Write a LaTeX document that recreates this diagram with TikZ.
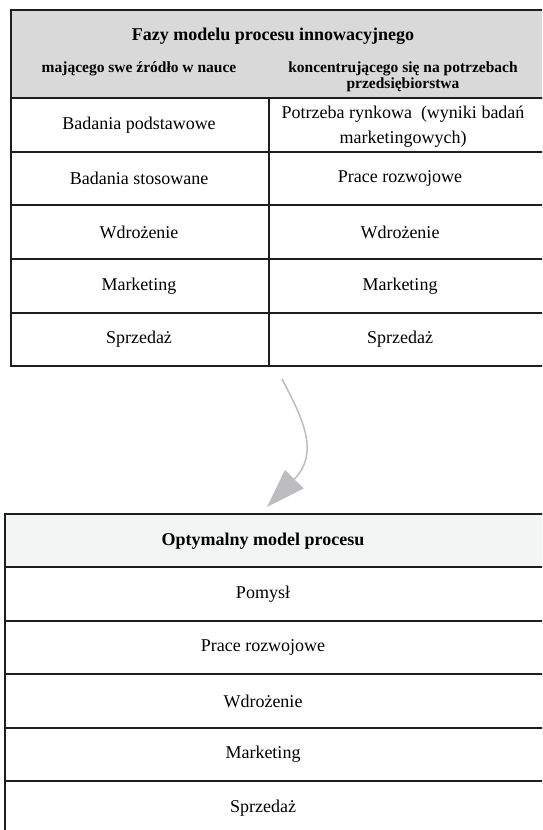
\documentclass[tikz,border=0pt]{standalone}
\usepackage{fontspec}
\setmainfont{Liberation Serif}
\usetikzlibrary{arrows.meta}
\definecolor{framecol}{HTML}{1E1E1E}
\definecolor{hdrgray}{HTML}{D9D9D9}
\definecolor{hdrlight}{HTML}{F3F5F5}
\definecolor{arrowgray}{HTML}{BDBDC0}
\newcommand\cellfont{\fontsize{18}{22}\selectfont}
\newcommand\titlefont{\fontsize{18}{22}\selectfont\bfseries}
\newcommand\subfont{\fontsize{15.5}{16}\selectfont\bfseries}
\begin{document}
\begin{tikzpicture}[x=1pt,y=-1pt,
  rule/.style={draw=framecol, line width=2pt},
  celltext/.style={inner sep=0pt, font=\cellfont, align=center},
  titletext/.style={inner sep=0pt, font=\titlefont, align=center},
  subtext/.style={inner sep=0pt, font=\subfont, align=center},
  conn/.style={draw=arrowgray, line width=1.5pt, -{Triangle[length=39pt,width=26pt]}}]
\useasboundingbox (0,0) rectangle (542,830);
\clip (0,0) rectangle (542,830);
% ---------- top table ----------
\fill[hdrgray] (11,10) rectangle (560,98);
\draw[rule] (560,10) -- (11,10) -- (11,366) -- (560,366);
\foreach \yy in {98,152,205,259,313} \draw[rule] (11,\yy) -- (560,\yy);
\draw[rule] (269,98) -- (269,366);
\node[titletext] (title) at (273,36) {Fazy modelu procesu innowacyjnego};
\node[subtext] (subL) at (139,69) {mającego swe źródło w nauce};
\node[subtext] (subR) at (403,77) {koncentrującego się na potrzebach\\przedsiębiorstwa};
\node[celltext] (a1) at (139,125) {Badania podstawowe};
\node[celltext, font=\fontsize{18}{25}\selectfont] (b1) at (403,127) {Potrzeba rynkowa\hspace{0.5em}(wyniki badań\\marketingowych)};
\node[celltext] (a2) at (139,178.5) {Badania stosowane};
\node[celltext] (b2) at (400,178.5) {Prace rozwojowe};
\node[celltext] (a3) at (139,232) {Wdrożenie};
\node[celltext] (b3) at (400,232) {Wdrożenie};
\node[celltext] (a4) at (139,286) {Marketing};
\node[celltext] (b4) at (400,286) {Marketing};
\node[celltext] (a5) at (139,339.5) {Sprzedaż};
\node[celltext] (b5) at (400,339.5) {Sprzedaż};
% ---------- bottom table ----------
\fill[hdrlight] (5,513.5) rectangle (560,567);
\draw[rule] (560,513.5) -- (5,513.5) -- (5,850);
\foreach \yy in {567,621,674,728,781} \draw[rule] (5,\yy) -- (560,\yy);
\node[titletext] (opt) at (263,541) {Optymalny model procesu};
\node[celltext] (c1) at (263,594) {Pomysł};
\node[celltext] (c2) at (263,647.5) {Prace rozwojowe};
\node[celltext] (c3) at (263,701) {Wdrożenie};
\node[celltext] (c4) at (263,754.5) {Marketing};
\node[celltext] (c5) at (263,808) {Sprzedaż};
% ---------- arrow ----------
\coordinate (astart) at (282,379);
\coordinate (aend) at (267,507);
\draw[conn] (astart) .. controls (303,419) and (320,453) .. (aend);
\end{tikzpicture}
\end{document}
